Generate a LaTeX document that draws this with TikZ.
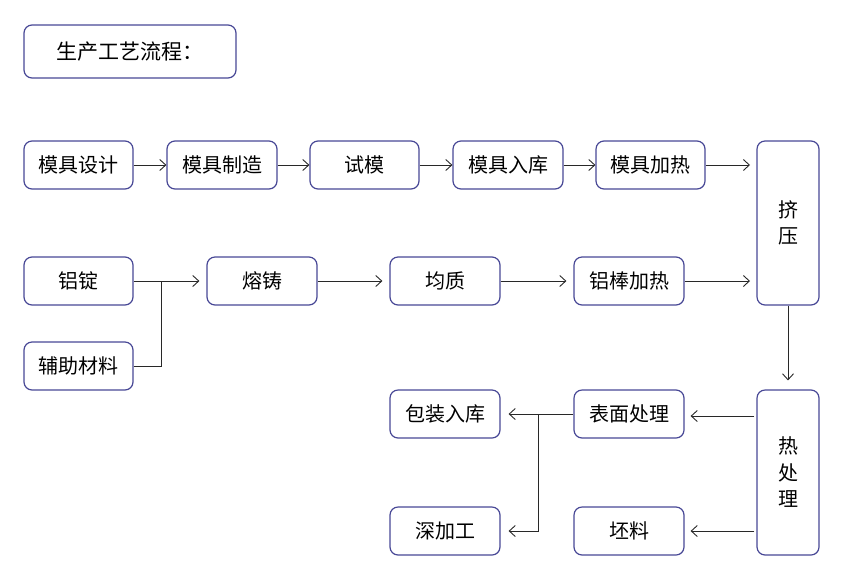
\documentclass[tikz,border=0pt]{standalone}
\usepackage{fontspec}
\newfontfamily\cjk{Noto Sans CJK SC}
\usetikzlibrary{arrows.meta}
\definecolor{boxc}{RGB}{72,72,150}
\definecolor{arrc}{RGB}{40,40,40}
\tikzset{
  bx/.style={draw=boxc, line width=1.2pt, rounded corners=8pt, fill=white, inner sep=0pt, font=\cjk\fontsize{20}{26.5}\selectfont, align=center},
  ar/.style={draw=arrc, line width=0.9pt, -{Straight Barb[length=6pt,width=11pt,line width=0.9pt]}},
  ln/.style={draw=arrc, line width=0.9pt}
}
\begin{document}
\begin{tikzpicture}[x=1pt,y=-1pt]
\useasboundingbox (0,0) rectangle (842,582);
\newcommand{\bxat}[6]{\node[bx, minimum width=#3-#2, minimum height=#5-#4] (#1) at ({(#2+#3)/2},{(#4+#5)/2}) {#6};}
\bxat{title}{24}{236}{25}{78}{\fontsize{21}{26}\selectfont 生产工艺流程：}
\bxat{a1}{24}{133}{141}{189}{模具设计}
\bxat{a2}{167}{277}{141}{189}{模具制造}
\bxat{a3}{310}{419}{141}{189}{试模}
\bxat{a4}{453}{563}{141}{189}{模具入库}
\bxat{a5}{596}{705}{141}{189}{模具加热}
\bxat{jy}{757}{819}{141}{305}{挤\\压}
\bxat{b1}{24}{133}{257}{305}{铝锭}
\bxat{b2}{207}{317}{257}{305}{熔铸}
\bxat{b3}{390}{500}{257}{305}{均质}
\bxat{b4}{574}{684}{257}{305}{铝棒加热}
\bxat{fz}{24}{133}{342}{390}{辅助材料}
\bxat{rc}{757}{819}{390}{555}{热\\处\\理}
\bxat{bm}{574}{684}{390}{438}{表面处理}
\bxat{pl}{574}{684}{507}{555}{坯料}
\bxat{bz}{390}{500}{390}{438}{包装入库}
\bxat{sj}{390}{500}{507}{555}{深加工}
\coordinate (e1) at (750,165);
\coordinate (e2) at (750,281);
\coordinate (j1) at (161,281);
\coordinate (j2) at (538,414);
\draw[ar] (a1.east) -- (a2.west);
\draw[ar] (a2.east) -- (a3.west);
\draw[ar] (a3.east) -- (a4.west);
\draw[ar] (a4.east) -- (a5.west);
\draw[ar] (a5.east) -- (e1);
\draw[ar] (b1.east) -- ([xshift=-7pt]b2.west);
\draw[ln] (fz.east) -| (j1);
\draw[ar] (b2.east) -- ([xshift=-7pt]b3.west);
\draw[ar] (b3.east) -- ([xshift=-7pt]b4.west);
\draw[ar] (b4.east) -- (e2);
\draw[ar] (jy.south) -- ([yshift=9pt]rc.north);
\draw[ar] ([xshift=-2pt,yshift=-2pt]rc.west |- bm.east) -- ([xshift=6pt,yshift=-2pt]bm.east);
\draw[ar] ([xshift=-2pt]rc.west |- pl.east) -- ([xshift=6pt]pl.east);
\draw[ar] (bm.west) -- ([xshift=8pt]bz.east);
\draw[ar] (j2) |- ([xshift=8pt]sj.east);
\end{tikzpicture}
\end{document}
